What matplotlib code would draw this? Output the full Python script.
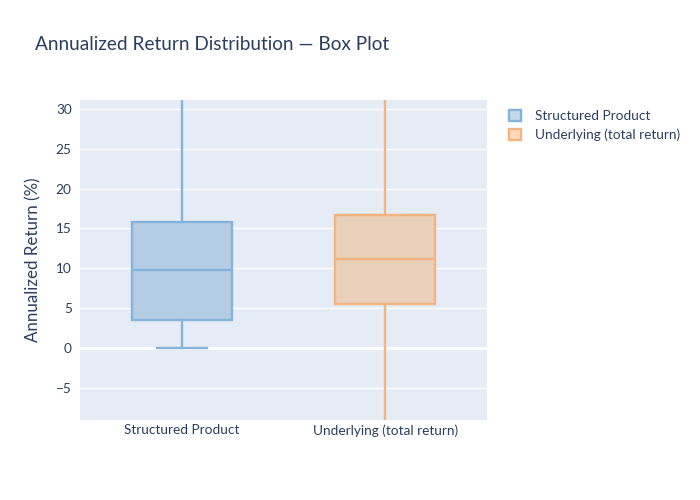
import matplotlib.pyplot as plt
from matplotlib.patches import Patch

plt.rcParams['font.family'] = ['Lato', 'DejaVu Sans']

# box statistics (annualized return, %)
categories = ["Structured Product", "Underlying (total return)"]
q1 = [3.5, 5.5]
medians = [9.85, 11.2]
q3 = [15.8, 16.75]
whisker_low = [0.0, -25.0]
whisker_high = [45.0, 42.0]
show_low_cap = [True, False]

line_colors = ["#84b3db", "#f5b47f"]
fill_colors = ["#b4cde4", "#e9d0ba"]
legend_fills = ["#c4d9ec", "#fdd8bb"]

text_color = "#2a3f5f"

fig = plt.figure(figsize=(7, 5), dpi=100)
ax = fig.add_axes([80 / 700, 80 / 500, 407 / 700, 320 / 500])
ax.set_facecolor("#e5ecf6")

for i, name in enumerate(categories):
    stats = [{
        "label": name,
        "q1": q1[i], "med": medians[i], "q3": q3[i],
        "whislo": whisker_low[i], "whishi": whisker_high[i],
        "fliers": [],
    }]
    ax.bxp(stats, positions=[i], widths=0.49, patch_artist=True,
           showfliers=False, showcaps=False,
           boxprops=dict(facecolor=fill_colors[i], edgecolor=line_colors[i], linewidth=1.7),
           medianprops=dict(color=line_colors[i], linewidth=1.7),
           whiskerprops=dict(color=line_colors[i], linewidth=1.7),
           manage_ticks=False, zorder=3)
    if show_low_cap[i]:
        ax.plot([i - 0.1225, i + 0.1225], [whisker_low[i]] * 2,
                color=line_colors[i], linewidth=1.7, zorder=3)

ax.set_xlim(-0.5, 1.5)
ax.set_ylim(-9.0, 31.1)
ax.set_xticks(range(len(categories)))
ax.set_xticklabels(categories)
ax.set_yticks([-5, 0, 5, 10, 15, 20, 25, 30])
ax.set_yticklabels(["\u22125", "0", "5", "10", "15", "20", "25", "30"])
ax.yaxis.grid(True, color="white", linewidth=1)
ax.set_axisbelow(True)
ax.axhline(0, color="white", linewidth=2, zorder=1)
for s in ax.spines.values():
    s.set_visible(False)
ax.tick_params(length=0, labelsize=9.8, colors=text_color, pad=6)
ax.tick_params(axis="x", pad=3)
ax.set_ylabel("Annualized Return (%)", fontsize=12.2, color=text_color, labelpad=10)

fig.text(35 / 700, 1 - 44 / 500, "Annualized Return Distribution \u2014 Box Plot",
         fontsize=13.7, color=text_color, va="center", ha="left")

handles = [Patch(facecolor=legend_fills[i], edgecolor=line_colors[i], linewidth=1.7)
           for i in range(len(categories))]
leg = fig.legend(handles, categories, loc="upper left",
                 bbox_to_anchor=(509 / 700, 1 - 110 / 500), frameon=False,
                 borderpad=0, borderaxespad=0,
                 fontsize=9.8, handlelength=0.9, handleheight=0.9,
                 handletextpad=1.03, labelspacing=0.44)
for t in leg.get_texts():
    t.set_color(text_color)

fig.savefig("out.png", dpi=100)
